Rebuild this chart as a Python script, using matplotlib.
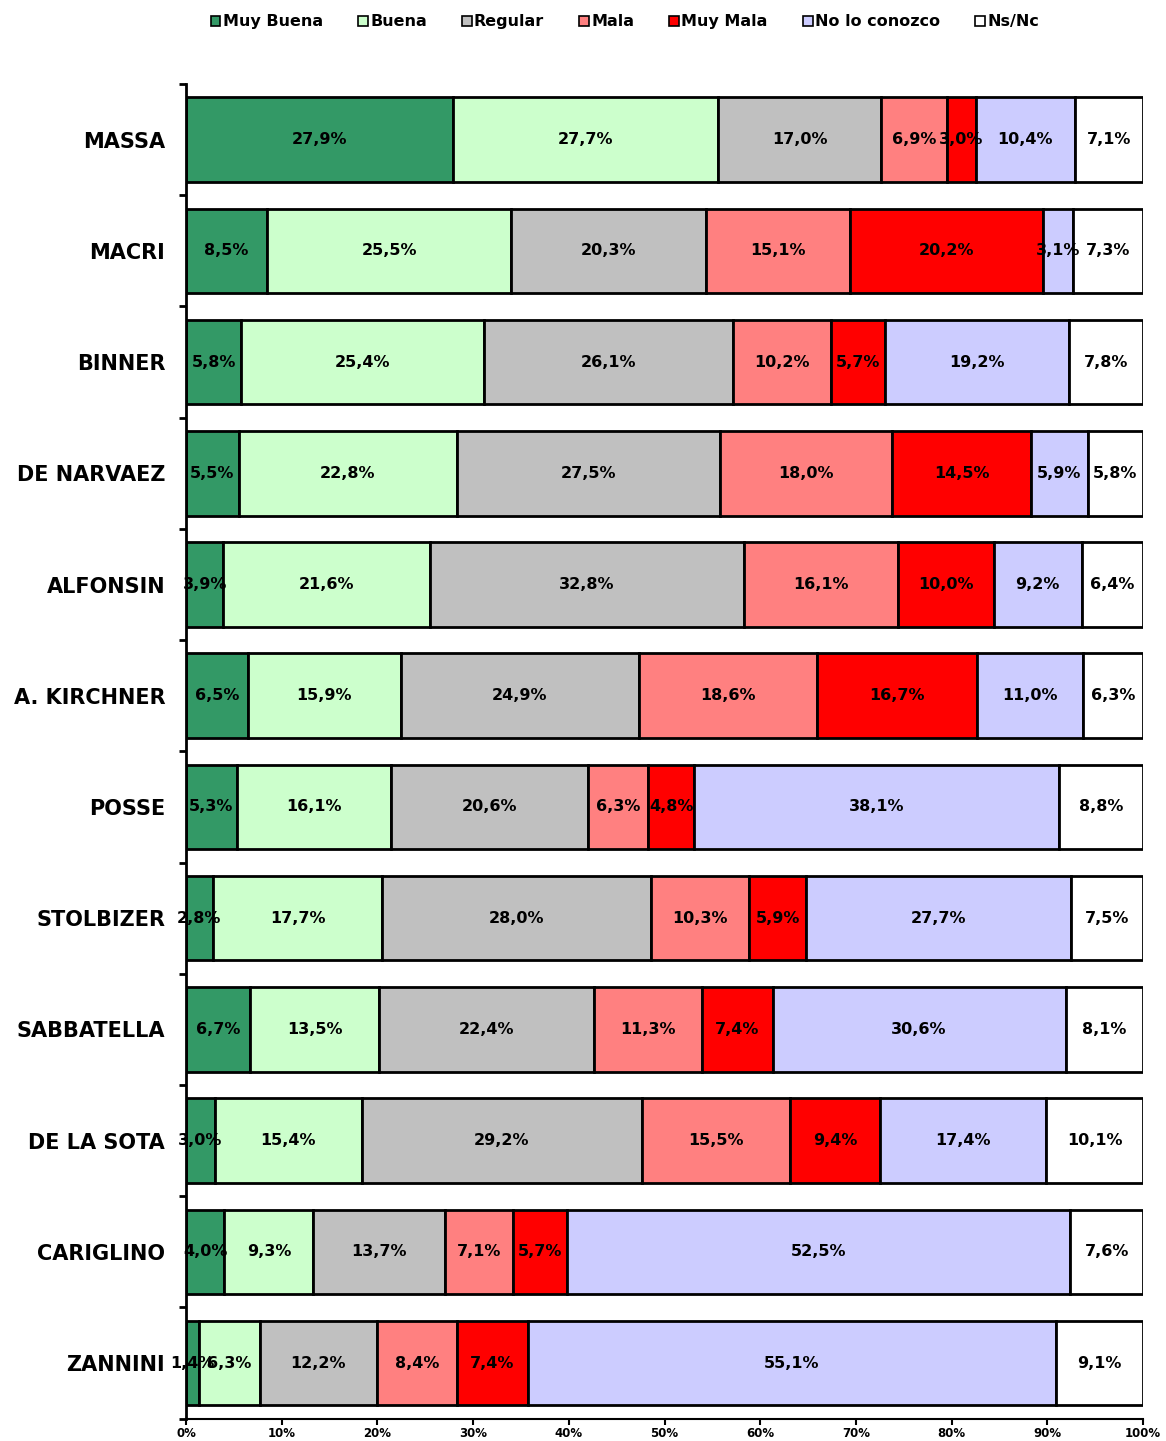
import matplotlib
matplotlib.use("Agg")
import matplotlib.pyplot as plt
import numpy as np
from matplotlib.ticker import FixedLocator, MultipleLocator, PercentFormatter

categories = ["MASSA", "MACRI", "BINNER", "DE NARVAEZ", "ALFONSIN", "A. KIRCHNER",
              "POSSE", "STOLBIZER", "SABBATELLA", "DE LA SOTA", "CARIGLINO", "ZANNINI"]
series_names = ["Muy Buena", "Buena", "Regular", "Mala", "Muy Mala", "No lo conozco", "Ns/Nc"]
muy_buena = [27.9, 8.5, 5.8, 5.5, 3.9, 6.5, 5.3, 2.8, 6.7, 3.0, 4.0, 1.4]
buena = [27.7, 25.5, 25.4, 22.8, 21.6, 15.9, 16.1, 17.7, 13.5, 15.4, 9.3, 6.3]
regular = [17.0, 20.3, 26.1, 27.5, 32.8, 24.9, 20.6, 28.0, 22.4, 29.2, 13.7, 12.2]
mala = [6.9, 15.1, 10.2, 18.0, 16.1, 18.6, 6.3, 10.3, 11.3, 15.5, 7.1, 8.4]
muy_mala = [3.0, 20.2, 5.7, 14.5, 10.0, 16.7, 4.8, 5.9, 7.4, 9.4, 5.7, 7.4]
no_conozco = [10.4, 3.1, 19.2, 5.9, 9.2, 11.0, 38.1, 27.7, 30.6, 17.4, 52.5, 55.1]
ns_nc = [7.1, 7.3, 7.8, 5.8, 6.4, 6.3, 8.8, 7.5, 8.1, 10.1, 7.6, 9.1]
colors = ["#339966", "#CCFFCC", "#C0C0C0", "#FF8080", "#FF0000", "#CCCCFF", "#FFFFFF"]

data = np.array([muy_buena, buena, regular, mala, muy_mala, no_conozco, ns_nc])
totals = data.sum(axis=0)
shares = data / totals * 100

fig = plt.figure(figsize=(11.66, 14.41), dpi=100)
ax = fig.add_axes([0.1595, 0.0155, 0.8208, 0.9262])

y = np.arange(len(categories))
left = np.zeros(len(categories))
for i, name in enumerate(series_names):
    bars = ax.barh(y, shares[i], left=left, height=0.76, color=colors[i],
                   edgecolor="black", linewidth=2, label=name)
    labels = [f"{v:.1f}%".replace(".", ",") for v in data[i]]
    ax.bar_label(bars, labels=labels, label_type="center", fontsize=11.5,
                 fontweight="bold", color="black")
    left += shares[i]

ax.set_xlim(0, 100)
ax.set_ylim(len(categories) - 0.5, -0.5)
ax.set_yticks(y)
ax.set_yticklabels(categories, fontsize=15, fontweight="bold")
ax.tick_params(axis="y", which="major", length=0, pad=15)
ax.yaxis.set_minor_locator(FixedLocator(np.arange(-0.5, len(categories), 1)))
ax.tick_params(axis="y", which="minor", length=5, width=2, direction="out")
ax.xaxis.set_major_locator(MultipleLocator(10))
ax.xaxis.set_major_formatter(PercentFormatter(decimals=0))
ax.tick_params(axis="x", length=4, width=1.5, direction="out", labelsize=8.5, pad=2)
for lbl in ax.get_xticklabels():
    lbl.set_fontweight("bold")
ax.spines["top"].set_visible(False)
ax.spines["right"].set_visible(False)
ax.spines["left"].set_linewidth(2)
ax.spines["bottom"].set_linewidth(1.5)

leg = fig.legend(loc="upper center", bbox_to_anchor=(0.536, 1.0), ncol=7, frameon=False,
                 handlelength=0.6, handleheight=0.6, handletextpad=0.15, columnspacing=2.2,
                 prop={"weight": "bold", "size": 11.5})
for h in leg.legend_handles:
    h.set_linewidth(1.2)

fig.savefig("out.png", dpi=100)
